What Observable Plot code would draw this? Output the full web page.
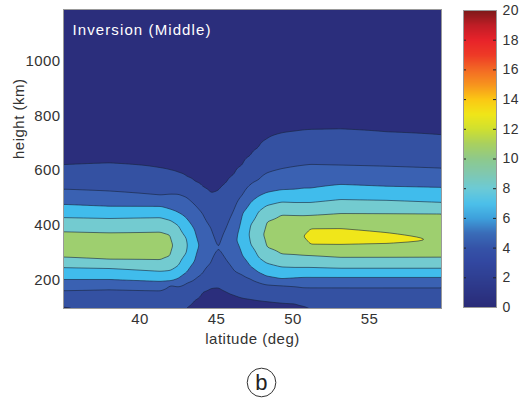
<!DOCTYPE html>
<html><head><meta charset="utf-8">
<script src="https://cdn.jsdelivr.net/npm/d3@7"></script>
<script src="https://cdn.jsdelivr.net/npm/@observablehq/plot@0.6"></script>
<style>
body{margin:0;background:#fff;}
#wrap{position:relative;width:527px;height:398px;}
#wrap svg{position:absolute;left:0;top:0;letter-spacing:0.4px;}
.wide text{letter-spacing:1.1px;}
.mid text{letter-spacing:0.5px;}
</style></head><body><div id="wrap"></div>
<script>
const latitudes = [35, 38, 41.34, 41.99, 42.51, 43.04, 43.56, 44.08, 44.61, 45.13, 45.65, 46.17, 46.7, 47.22, 47.74, 48.26, 49.24, 50.15, 50.68, 51.14, 53.1, 56.11, 59.7];
const profiles = [
  [[95,1.85],[102,2],[161,4],[201,6],[245,8],[282,10],[326,11.2],[377,10],[428,8],[476,6],[531,4],[619,2],[750,1.2],[1190,0.5]],
  [[95,2.15],[165,4],[201,6],[242,8],[274,10],[322,11.3],[373,10],[425,8],[469,6],[524,4],[626,2],[750,1.2],[1190,0.5]],
  [[95,2.1],[161,4],[194,6],[231,8],[271,10],[326,10.7],[377,10],[428,8],[469,6],[509,4],[608,2],[750,1.2],[1190,0.5]],
  [[95,2.05],[183,4],[194,6],[234,8],[285,10],[326,10.23],[367,10],[418,8],[458,6],[513,4],[600,2],[750,1.2],[1190,0.5]],
  [[95,2.02],[176,4],[205,6],[252,8],[326,9.5],[399,8],[446,6],[513,4],[591,2],[750,1.2],[1190,0.5]],
  [[95,1.97],[99,2],[189,4],[227,6],[299,8],[326,8.17],[352,8],[425,6],[502,4],[576,2],[750,1.15],[1190,0.5]],
  [[95,1.7],[126,2],[201,4],[268,6],[326,6.67],[384,6],[476,4],[559,2],[720,1.1],[1190,0.5]],
  [[95,1.5],[157,2],[223,4],[326,5.5],[443,4],[540,2],[700,1.1],[1190,0.5]],
  [[95,1.3],[170,2],[260,4],[326,4.6],[392,4],[516,2],[660,1.1],[1190,0.5]],
  [[95,1.2],[172,2],[315,3.99],[527,2],[660,1.1],[1190,0.5]],
  [[95,1.3],[156,2],[272,4],[333,4.8],[392,4],[556,2],[700,1.1],[1190,0.5]],
  [[95,1.4],[144,2],[232,4],[344,5.75],[458,4],[586,2],[760,1.1],[1190,0.5]],
  [[95,1.5],[134,2],[218,4],[288,6],[366,6.92],[444,6],[511,4],[619,2],[780,1.1],[1190,0.5]],
  [[95,1.6],[130,2],[204,4],[249,6],[330,8],[366,8.25],[401,8],[483,6],[549,4],[654,2],[800,1.1],[1190,0.5]],
  [[95,1.7],[126,2],[191,4],[227,6],[282,8],[366,9.52],[450,8],[506,6],[565,4],[683,2],[840,1.1],[1190,0.5]],
  [[95,1.75],[123,2],[183,4],[213,6],[261,8],[318,10],[366,10.3],[414,10],[472,8],[519,6],[590,4],[714,2],[870,1.1],[1190,0.5]],
  [[95,1.85],[118,2],[180,4],[203,6],[247,8],[293,10],[366,11.2],[439,10],[485,8],[529,6],[606,4],[736,2],[900,1.1],[1190,0.5]],
  [[95,1.87],[115,2],[176,4],[207,6],[245,8],[291,10],[362,11.6],[437,10],[483,8],[531,6],[615,4],[743,2],[900,1.1],[1190,0.5]],
  [[95,1.9],[106,2],[172,4],[209,6],[245,8],[289,10],[359,12.03],[436,10],[483,8],[535,6],[619,4],[747,2],[900,1.1],[1190,0.5]],
  [[95,1.95],[99,2],[172,4],[209,6],[245,8],[289,10],[329,12],[359,12.7],[388,12],[436,10],[483,8],[535,6],[622,4],[749,2],[900,1.1],[1190,0.5]],
  [[95,2.02],[172,4],[209,6],[242,8],[282,10],[329,12],[359,12.9],[388,12],[443,10],[494,8],[549,6],[619,4],[751,2],[900,1.1],[1190,0.5]],
  [[95,2.1],[172,4],[209,6],[242,8],[282,10],[333,12],[351,12.6],[373,12],[443,10],[491,8],[542,6],[615,4],[740,2],[900,1.1],[1190,0.5]],
  [[95,2.1],[172,4],[209,6],[242,8],[282,10],[344,11.9],[443,10],[483,8],[538,6],[608,4],[729,2],[900,1.1],[1190,0.5]]
];
const xTicks = [40, 45, 50, 55];
const yTicks = [200, 400, 600, 800, 1000];
const bandThresholds = [0, 2, 4, 6, 8, 10, 12, 14, 16, 18];
const lineThresholds = [2, 4, 6, 8, 10, 12];
const bandColors = ["#2b2e7c", "#3451a2", "#3a61b2", "#40bcec", "#73cbd0", "#9ecf6f", "#f0e61a", "#f9a51a", "#f04e26", "#b01c24"];
const cbTicks = [0, 2, 4, 6, 8, 10, 12, 14, 16, 18, 20];
const cbStops = [0, 1, 2, 3, 4, 5, 6, 7, 8, 9, 10, 11, 12, 13, 14, 15, 16, 17, 18, 19, 20];
const cbColors = ["#2a2b78", "#2c3585", "#2f3f92", "#3247a0", "#3553a8", "#3a6cb8", "#3ea0dc", "#4cc0ea", "#6ccad6", "#80c8b0", "#8ec98c", "#a8d060", "#cfe030", "#f0e618", "#fbc814", "#f7941e", "#f36a24", "#ee3a26", "#e8232a", "#c01d26", "#7d1a1a"];
const titleText = ["Inversion (Middle)"];
const xLabel = ["latitude (deg)"];
const yLabel = ["height (km)"];
const panelLabel = [{lat: 47.94, text: "b"}];

function profileAt(knots, h) {
  if (h <= knots[0][0]) return knots[0][1];
  for (let i = 1; i < knots.length; i++) {
    if (h <= knots[i][0]) {
      const [h0, v0] = knots[i - 1], [h1, v1] = knots[i];
      return v0 + (v1 - v0) * (h - h0) / (h1 - h0);
    }
  }
  return knots[knots.length - 1][1];
}
function field(lat, h) {
  let i = d3.bisectRight(latitudes, lat) - 1;
  i = Math.max(0, Math.min(latitudes.length - 2, i));
  const t = Math.max(0, Math.min(1, (lat - latitudes[i]) / (latitudes[i + 1] - latitudes[i])));
  return (1 - t) * profileAt(profiles[i], h) + t * profileAt(profiles[i + 1], h);
}

const font = "'Liberation Sans', Arial, Helvetica, sans-serif";
const extent = {x1: 35, x2: 59.7, y1: 95, y2: 1190, pixelSize: 1, blur: 1};

const main = Plot.plot({
  width: 527, height: 398,
  marginLeft: 63, marginRight: 86, marginTop: 9, marginBottom: 90,
  style: {fontFamily: font, fontSize: "15px", color: "#333", background: "transparent"},
  x: {domain: [35, 59.7]},
  y: {domain: [95, 1190]},
  color: {type: "threshold", domain: bandThresholds.slice(1), range: bandColors},
  marks: [
    Plot.contour({...extent, value: (x, y) => field(x, y), thresholds: bandThresholds, fill: "value"}),
    Plot.contour({...extent, value: (x, y) => field(x, y), thresholds: lineThresholds, stroke: "#17233a", strokeOpacity: 0.75, strokeWidth: 0.8, fill: "none"}),
    Plot.frame({stroke: "#999", strokeWidth: 1}),
    Plot.axisX({ticks: xTicks, tickSize: 0, tickPadding: 5, label: null, fontSize: 15, tickFormat: d => String(d)}),
    Plot.axisY({ticks: yTicks, tickSize: 0, tickPadding: 3, label: null, fontSize: 15, tickFormat: d => String(d)}),
    Plot.text(titleText, {frameAnchor: "top-left", textAnchor: "start", lineAnchor: "middle", dx: 9, dy: 21, fill: "white", fontSize: 15, className: "wide"}),
    Plot.text(xLabel, {frameAnchor: "bottom", lineAnchor: "middle", dy: 31, fontSize: 15, fill: "#333", className: "mid"}),
    Plot.text(yLabel, {frameAnchor: "left", lineAnchor: "middle", dx: -44, rotate: -90, fontSize: 15, fill: "#333", className: "mid"}),
    Plot.dot(panelLabel, {x: "lat", frameAnchor: "bottom", dy: 74, r: 14.3, stroke: "#333", strokeWidth: 1, fill: "none"}),
    Plot.text(panelLabel, {x: "lat", text: "text", frameAnchor: "bottom", lineAnchor: "middle", dy: 74, fontSize: 22, fill: "#222"})
  ]
});

const cbar = Plot.plot({
  width: 527, height: 398,
  marginLeft: 463, marginRight: 31, marginTop: 10, marginBottom: 91,
  style: {fontFamily: font, fontSize: "14px", color: "#333", background: "transparent", pointerEvents: "none"},
  x: {domain: [0, 1], axis: null},
  y: {domain: [0, 20], axis: null},
  color: {type: "linear", domain: cbStops, range: cbColors, interpolate: "rgb"},
  marks: [
    Plot.raster({fill: (x, y) => y, x1: 0, x2: 1, y1: 0, y2: 20, pixelSize: 1}),
    Plot.ruleY(cbTicks, {y: d => d, x1: 0, x2: 0.09, stroke: "#222", strokeWidth: 1}),
    Plot.ruleY(cbTicks, {y: d => d, x1: 0.91, x2: 1, stroke: "#222", strokeWidth: 1}),
    Plot.frame({stroke: "#999", strokeWidth: 1}),
    Plot.axisY({anchor: "right", ticks: cbTicks, tickSize: 0, tickPadding: 6, label: null, fontSize: 14})
  ]
});

const wrap = document.getElementById("wrap");
wrap.appendChild(main);
wrap.appendChild(cbar);
</script>
</body></html>
